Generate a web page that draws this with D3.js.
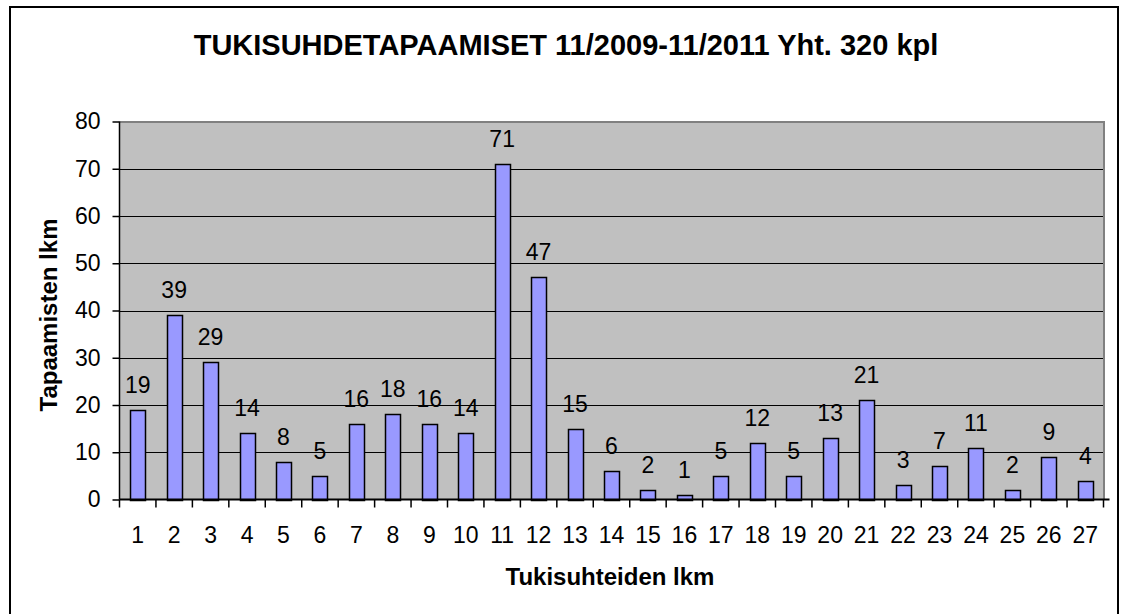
<html>
<head>
<meta charset="utf-8">
<script src="https://d3js.org/d3.v7.min.js"></script>
<style>
    html, body {
        margin: 0;
        padding: 0;
        background: #fff;
    }
    text {
        font-family: Arial, "Liberation Sans", sans-serif;
        fill: #000;
    }
</style>
</head>
<body>
<script>
    // data
    var categories = d3.range(1, 28).map(String);
    var values = [19, 39, 29, 14, 8, 5, 16, 18, 16, 14, 71, 47, 15, 6, 2, 1, 5, 12, 5, 13, 21, 3, 7, 11, 2, 9, 4];
    var yTicks = [0, 10, 20, 30, 40, 50, 60, 70, 80];

    var width = 1121, height = 614;
    var plotLeft = 119.5, plotRight = 1103.5, plotTop = 121.5, plotBottom = 499.5;

    var svg = d3.select("body").append("svg")
        .attr("width", width)
        .attr("height", height);

    // outer chart border
    svg.append("rect")
        .attr("x", 10).attr("y", 7)
        .attr("width", 1108).attr("height", 620)
        .attr("fill", "#fff")
        .attr("stroke", "#000")
        .attr("stroke-width", 2);

    var x = d3.scaleBand()
        .domain(categories)
        .range([plotLeft, plotRight])
        .paddingInner(0.59)
        .paddingOuter(0.295);

    var y = d3.scaleLinear()
        .domain([0, 80])
        .range([plotBottom, plotTop]);

    // plot area
    svg.append("rect")
        .attr("x", plotLeft).attr("y", plotTop)
        .attr("width", plotRight - plotLeft).attr("height", plotBottom - plotTop)
        .attr("fill", "#c0c0c0");

    // gridlines
    svg.append("g").selectAll("line")
        .data(yTicks.filter(function (d) { return d > 0 && d < 80; }))
        .enter().append("line")
        .attr("x1", plotLeft).attr("x2", plotRight)
        .attr("y1", function (d) { return Math.round(y(d)) + 0.5; })
        .attr("y2", function (d) { return Math.round(y(d)) + 0.5; })
        .attr("stroke", "#000")
        .attr("stroke-width", 1);

    // top and right plot edges (grey)
    svg.append("path")
        .attr("d", "M" + plotLeft + "," + (plotTop + 0.5) + "H" + (plotRight + 0.5) + "V" + plotBottom)
        .attr("fill", "none")
        .attr("stroke", "#808080")
        .attr("stroke-width", 2);

    // bars
    svg.append("g").selectAll("rect")
        .data(values)
        .enter().append("rect")
        .attr("x", function (d, i) { return Math.round(x(categories[i])) + 0.5; })
        .attr("y", function (d) { return Math.round(y(d)) + 0.5; })
        .attr("width", Math.round(x.bandwidth()))
        .attr("height", function (d) { return Math.round(plotBottom) - Math.round(y(d)); })
        .attr("fill", "#9999ff")
        .attr("stroke", "#000")
        .attr("stroke-width", 1.5);

    // data labels
    svg.append("g").selectAll("text")
        .data(values)
        .enter().append("text")
        .attr("x", function (d, i) { return x(categories[i]) + x.bandwidth() / 2; })
        .attr("y", function (d) { return y(d) - 17; })
        .attr("text-anchor", "middle")
        .style("font-size", "23px")
        .text(function (d) { return d; });

    // y axis
    var yAxis = svg.append("g")
        .attr("transform", "translate(" + plotLeft + ",0)")
        .call(d3.axisLeft(y).tickValues(yTicks).tickSize(7).tickPadding(12));
    yAxis.selectAll("path, line").attr("stroke", "#000").attr("stroke-width", 1.5);
    yAxis.select(".domain").attr("d", "M0," + plotBottom + "V" + plotTop);
    yAxis.selectAll("text").style("font-size", "23px").attr("font-family", null);

    // x axis
    var xAxis = svg.append("g")
        .attr("transform", "translate(0," + plotBottom + ")")
        .call(d3.axisBottom(x).tickSize(0).tickPadding(27));
    xAxis.select(".domain").attr("d", "M" + plotLeft + ",0H" + (plotRight + 6)).attr("stroke", "#000").attr("stroke-width", 2);
    xAxis.selectAll("text").style("font-size", "23px").attr("font-family", null);

    // x tick marks at category boundaries
    var bounds = d3.range(categories.length + 1).map(function (i) { return plotLeft + i * x.step(); });
    svg.append("g").selectAll("line")
        .data(bounds)
        .enter().append("line")
        .attr("x1", function (d) { return d; }).attr("x2", function (d) { return d; })
        .attr("y1", plotBottom).attr("y2", plotBottom + 8)
        .attr("stroke", "#000")
        .attr("stroke-width", 1.5);

    // titles
    svg.append("text")
        .attr("x", 566).attr("y", 55)
        .attr("text-anchor", "middle")
        .style("font-size", "29px")
        .style("font-weight", "bold")
        .text("TUKISUHDETAPAAMISET 11/2009-11/2011 Yht. 320 kpl");

    svg.append("text")
        .attr("x", 610).attr("y", 585)
        .attr("text-anchor", "middle")
        .style("font-size", "24px")
        .style("font-weight", "bold")
        .text("Tukisuhteiden lkm");

    svg.append("text")
        .attr("transform", "translate(57,315) rotate(-90)")
        .attr("text-anchor", "middle")
        .style("font-size", "24px")
        .style("font-weight", "bold")
        .text("Tapaamisten lkm");
</script>
</body>
</html>
